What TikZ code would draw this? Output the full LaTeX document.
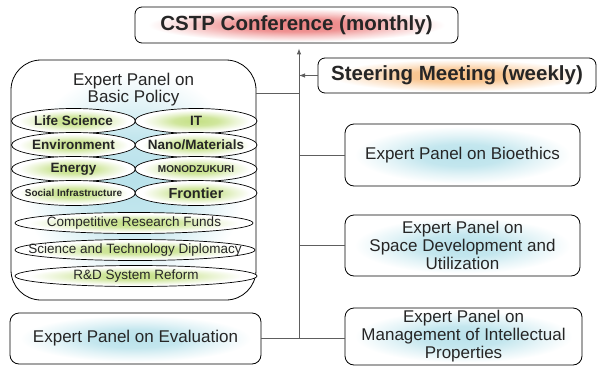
\documentclass[tikz,border=0pt]{standalone}
\usepackage{fontspec}
\setmainfont{Liberation Sans}
\usetikzlibrary{arrows.meta,positioning,shapes.geometric}

\definecolor{inkgray}{HTML}{262626}
\definecolor{linkgray}{HTML}{5E5E5E}
\definecolor{glowred}{RGB}{236,128,128}
\definecolor{gloworange}{RGB}{248,190,130}
\definecolor{glowblue}{RGB}{185,226,235}
\definecolor{glowgreen}{RGB}{196,224,132}

\pgfdeclareradialshading{redglow}{\pgfpoint{0bp}{0bp}}{color(0bp)=(glowred);color(9bp)=(glowred!85!white);color(16bp)=(glowred!40!white);color(23bp)=(white);color(50bp)=(white)}
\pgfdeclareradialshading{orangeglow}{\pgfpoint{0bp}{0bp}}{color(0bp)=(gloworange);color(9bp)=(gloworange!85!white);color(16bp)=(gloworange!40!white);color(23bp)=(white);color(50bp)=(white)}
\pgfdeclareradialshading{blueglow}{\pgfpoint{0bp}{0bp}}{color(0bp)=(glowblue);color(9bp)=(glowblue!85!white);color(16bp)=(glowblue!40!white);color(23bp)=(white);color(50bp)=(white)}
\pgfdeclareradialshading{greenglow}{\pgfpoint{0bp}{0bp}}{color(0bp)=(glowgreen);color(9bp)=(glowgreen!80!white);color(16bp)=(glowgreen!35!white);color(22bp)=(white);color(50bp)=(white)}

\begin{document}
\begin{tikzpicture}[x=1pt,y=-1pt,
head box/.style={draw,rounded corners=7pt,line width=0.8pt,text=inkgray,inner sep=0pt,font=\fontsize{20.5}{22}\selectfont\bfseries},
panel/.style={draw,rounded corners=9pt,line width=0.8pt,align=center,text=inkgray,inner sep=0pt,shade,shading=blueglow,font=\fontsize{17}{18}\selectfont},
topic/.style={draw,ellipse,line width=0.7pt,inner ysep=0pt,inner xsep=-40pt,text=inkgray,shade,shading=greenglow,minimum height=25,font=\fontsize{13.5}{14}\selectfont\bfseries},
wide topic/.style={topic,minimum height=21,font=\fontsize{13.5}{14}\selectfont},
link/.style={draw=linkgray,line width=0.9pt},
head/.style={-{Latex[length=6pt,width=4.5pt]}}]
\useasboundingbox (0,0) rectangle (597,370);
\node[head box,shade,shading=redglow,minimum width=323,minimum height=36] (cstp) at (296.5,25) {CSTP Conference (monthly)};
\node[head box,shade,shading=orangeglow,minimum width=278,minimum height=35] (steer) at (457,75.5) {Steering Meeting (weekly)};
\node[panel,rounded corners=30pt,minimum width=245,minimum height=240,
  label={[anchor=north,align=center,yshift=-10pt,text=inkgray,font=\fontsize{17}{17}\selectfont]north:{Expert Panel on\\Basic Policy}}] (basic) at (133.5,180) {};
\node[topic,minimum width=124] (life) at (73.5,121) {Life Science};
\node[topic,minimum width=122] (it) at (196,121) {IT};
\node[topic,minimum width=124] (env) at (73.5,145) {Environment};
\node[topic,minimum width=122] (nano) at (196,145) {Nano/Materials};
\node[topic,minimum width=124] (energy) at (73.5,169) {Energy};
\node[topic,minimum width=122,font=\fontsize{10}{11}\selectfont\bfseries] (mono) at (196,169) {MONODZUKURI};
\node[topic,minimum width=124,font=\fontsize{10}{11}\selectfont\bfseries] (social) at (73.5,193) {Social Infrastructure};
\node[topic,minimum width=122,font=\fontsize{14.5}{15}\selectfont\bfseries] (frontier) at (196,193) {Frontier};
\node[wide topic,minimum width=238] (funds) at (134,223) {Competitive Research Funds};
\node[wide topic,minimum width=240] (diplo) at (135,250) {Science and Technology Diplomacy};
\node[wide topic,minimum width=242] (reform) at (136,276) {R\&D System Reform};
\node[panel,minimum width=251,minimum height=51] (eval) at (135.5,338.5) {Expert Panel on Evaluation};
\node[panel,minimum width=235,minimum height=62] (bio) at (462.5,155) {Expert Panel on Bioethics};
\node[panel,minimum width=235,minimum height=61] (space) at (462.5,245.5) {Expert Panel on\\Space Development and\\Utilization};
\node[panel,minimum width=237,minimum height=57] (ipr) at (463.5,336.5) {Expert Panel on\\Management of Intellectual\\Properties};
\coordinate (trunk) at (299,338.5);
\draw[link,head,shorten >=5pt] (trunk) -- (trunk |- cstp.south);
\draw[link,head] (steer.west) -- (steer.west -| trunk);
\draw[link] (basic.east |- steer.south) -- (trunk |- steer.south);
\draw[link] (bio.west) -- (bio.west -| trunk);
\draw[link] (space.west) -- (space.west -| trunk);
\draw[link] (eval.east) -- (eval.east -| ipr.west);
\end{tikzpicture}
\end{document}
